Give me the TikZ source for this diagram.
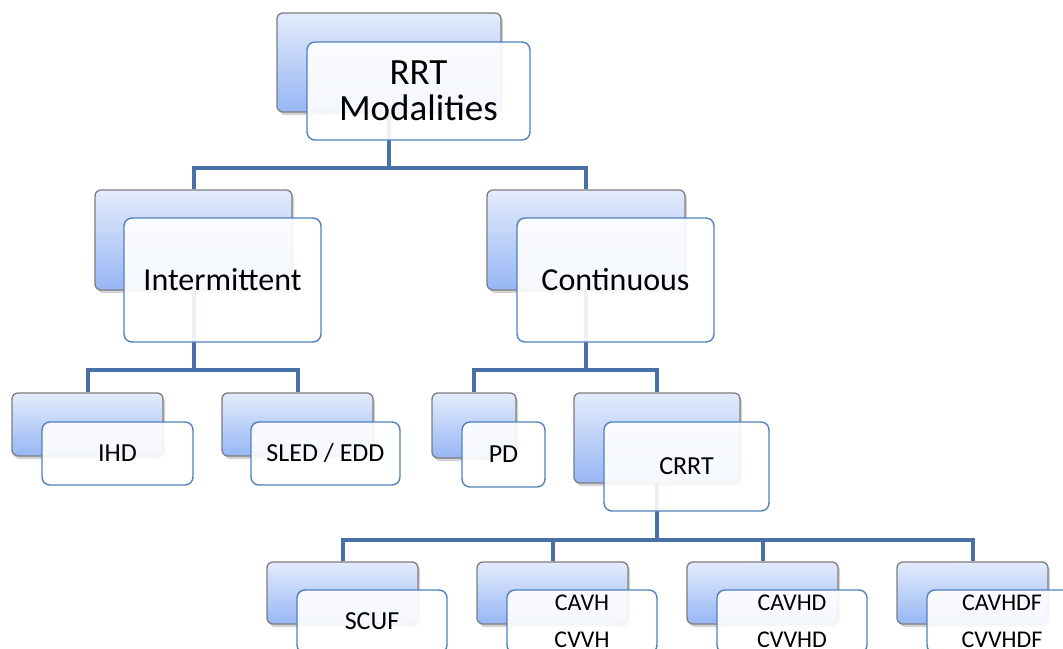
\documentclass[tikz,border=0pt]{standalone}
\usepackage{fontspec}
\setmainfont{Carlito}
\usetikzlibrary{shadows,backgrounds}
\definecolor{connc}{RGB}{72,112,166}
\definecolor{frontline}{RGB}{79,129,189}
\definecolor{backline}{RGB}{125,125,125}
\definecolor{backtop}{RGB}{228,236,252}
\definecolor{backbot}{RGB}{150,182,244}
\tikzset{
  backbox/.style={draw=backline, line width=1.3pt, rounded corners=6pt,
    top color=backtop, bottom color=backbot,
    drop shadow={shadow xshift=2pt, shadow yshift=-3pt, opacity=0.35},
    inner sep=0pt},
  frontbox/.style={draw=frontline, line width=1.4pt, rounded corners=8pt,
    fill=white, fill opacity=0.9, text opacity=1, inner sep=0pt, align=center},
  connector/.style={draw=connc, line width=4pt},
  big/.style={font=\fontsize{37}{36}\selectfont},
  mid/.style={font=\fontsize{32}{34}\selectfont},
  small/.style={font=\fontsize{26}{28}\selectfont},
  tiny/.style={font=\fontsize{24}{37}\selectfont},
}
\begin{document}
\begin{tikzpicture}[x=1pt,y=-1pt]
\clip (0,0) rectangle (1063,648);
% top
\node[backbox, minimum width=224pt, minimum height=99pt] (rb) at (389,62.5) {};
\node[frontbox, big, minimum width=223pt, minimum height=98pt] (rf) at (418.5,91) {RRT\\Modalities};
% second level
\node[backbox, minimum width=197pt, minimum height=100pt] (ib) at (193.5,240) {};
\node[frontbox, mid, minimum width=197pt, minimum height=124pt] (if) at (222.5,280) {Intermittent};
\node[backbox, minimum width=198pt, minimum height=100pt] (cb) at (586,240) {};
\node[frontbox, mid, minimum width=197pt, minimum height=124pt] (cf) at (615.5,280) {Continuous};
% third level
\node[backbox, minimum width=151pt, minimum height=63pt] (hb) at (87.5,424.5) {};
\node[frontbox, small, minimum width=151pt, minimum height=63pt] (hf) at (117.5,453.5) {IHD};
\node[backbox, minimum width=151pt, minimum height=63pt] (sb) at (297.5,424.5) {};
\node[frontbox, small, minimum width=149pt, minimum height=63pt] (sf) at (325.5,453.5) {SLED / EDD};
\node[backbox, minimum width=84pt, minimum height=65pt] (pb) at (474,425.5) {};
\node[frontbox, small, minimum width=83pt, minimum height=65pt] (pf) at (503.5,454.5) {PD};
\node[backbox, minimum width=166pt, minimum height=90pt] (crb) at (657,438) {};
\node[frontbox, small, minimum width=165pt, minimum height=89pt] (crf) at (686.5,466.5) {CRRT};
% fourth level
\node[backbox, minimum width=151pt, minimum height=62pt] (b1) at (342.5,593) {};
\node[frontbox, small, minimum width=150pt, minimum height=63pt] (f1) at (372,621.5) {SCUF};
\node[backbox, minimum width=151pt, minimum height=62pt] (b2) at (552.5,593) {};
\node[frontbox, tiny, minimum width=150pt, minimum height=63pt] (f2) at (582,621.5) {CAVH\\CVVH};
\node[backbox, minimum width=151pt, minimum height=62pt] (b3) at (762.5,593) {};
\node[frontbox, tiny, minimum width=150pt, minimum height=63pt] (f3) at (792,621.5) {CAVHD\\CVVHD};
\node[backbox, minimum width=151pt, minimum height=62pt] (b4) at (972.5,593) {};
\node[frontbox, tiny, minimum width=150pt, minimum height=63pt] (f4) at (1002,621.5) {CAVHDF\\CVVHDF};
% connectors
\begin{scope}[on background layer]
\coordinate (j1) at (389,168);
\coordinate (j2) at (193.5,370);
\coordinate (j3) at (586,370);
\coordinate (j4) at (657,540);
\draw[connector] (rb.south) -- (j1) -| (ib.north);
\draw[connector] (j1) -| (cb.north);
\draw[connector] (ib.south) -- (j2) -| (hb.north);
\draw[connector] (j2) -| (sb.north);
\draw[connector] (cb.south) -- (j3) -| (pb.north);
\draw[connector] (j3) -| (crb.north);
\draw[connector] (crb.south) -- (j4) -| (b1.north);
\draw[connector] (j4) -| (b2.north);
\draw[connector] (j4) -| (b3.north);
\draw[connector] (j4) -| (b4.north);
\end{scope}
\end{tikzpicture}
\end{document}
